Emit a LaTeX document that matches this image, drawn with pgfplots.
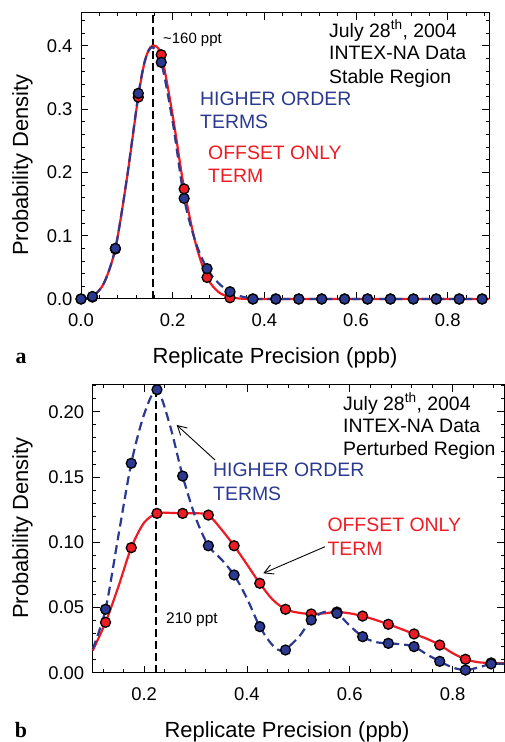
\documentclass[border=0pt]{standalone}
\usepackage{pgfplots}
\pgfplotsset{compat=1.18}
\usepackage{fontspec}
\setmainfont{Liberation Sans}
\newfontfamily\serifb{Liberation Serif}
\usetikzlibrary{arrows.meta}
\definecolor{myblue}{RGB}{43,57,144}
\definecolor{myred}{RGB}{237,28,36}
\pgfplotsset{
  myaxis/.style={
    scale only axis, anchor=south west, clip=false,
    tick align=inside,
    major tick length=7bp, minor tick length=3.5bp,
    every tick/.style={black, line width=0.8bp},
    every minor tick/.style={black, line width=0.7bp},
    axis line style={line width=1bp},
    tick label style={font=\fontsize{18.5}{20}\selectfont},
    xticklabel style={yshift=-11bp},
    yticklabel style={xshift=-5bp},
    /pgf/number format/assume math mode=true,
    /pgf/number format/fixed, /pgf/number format/fixed zerofill,
  },
  redline/.style={myred, line width=2.2bp, smooth, no markers},
  blueline/.style={myblue, line width=2.2bp, smooth, no markers, dash pattern=on 9bp off 5bp},
  redmk/.style={only marks, mark=*, mark size=5bp, mark options={fill=myred, draw=black, line width=1.3bp}},
  bluemk/.style={only marks, mark=*, mark size=5bp, mark options={fill=myblue, draw=black, line width=1.3bp}},
}
\begin{document}
\begin{tikzpicture}
\useasboundingbox (0bp,0bp) rectangle (505bp,742bp);
% ---------------- panel a ----------------
\begin{axis}[myaxis, at={(81bp,443bp)}, width=408bp, height=286bp,
  xmin=0, xmax=0.89, ymin=0, ymax=0.452,
  xtick={0,0.2,0.4,0.6,0.8}, minor xtick={0.04,0.08,0.12,0.16,0.24,0.28,0.32,0.36,0.44,0.48,0.52,0.56,0.64,0.68,0.72,0.76,0.84,0.88},
  ytick={0,0.1,0.2,0.3,0.4}, minor ytick={0.02,0.04,0.06,0.08,0.12,0.14,0.16,0.18,0.22,0.24,0.26,0.28,0.32,0.34,0.36,0.38,0.42,0.44},
  xticklabel style={/pgf/number format/precision=1},
  yticklabel style={/pgf/number format/precision=1},
]
\addplot[black, line width=2bp, dash pattern=on 8bp off 4bp] coordinates {(0.157,0) (0.157,0.452)};
\addplot[redline] coordinates {
(0,0) (0.025,0.004) (0.05,0.025) (0.075,0.08) (0.1,0.19) (0.125,0.32) (0.14,0.378) (0.155,0.400)
(0.175,0.386) (0.2,0.29) (0.225,0.174) (0.25,0.088) (0.275,0.034) (0.3,0.011) (0.325,0.003)
(0.35,0.0005) (0.375,0) (0.5,0) (0.7,0) (0.89,0)};
\addplot[blueline] coordinates {
(0,0) (0.025,0.004) (0.05,0.025) (0.075,0.08) (0.1,0.19) (0.125,0.322) (0.14,0.378) (0.155,0.398)
(0.175,0.374) (0.2,0.28) (0.225,0.159) (0.25,0.09) (0.275,0.048) (0.3,0.025) (0.325,0.0115)
(0.35,0.004) (0.375,0.001) (0.4,0) (0.6,0) (0.89,0)};
\addplot[redmk] coordinates {
(0,0) (0.025,0.003) (0.075,0.079) (0.125,0.319) (0.175,0.386) (0.225,0.174) (0.275,0.034) (0.325,0.002)
(0.375,0) (0.425,0) (0.475,0) (0.525,0) (0.575,0) (0.625,0) (0.675,0) (0.725,0) (0.775,0) (0.825,0) (0.875,0)};
\addplot[bluemk] coordinates {
(0,0) (0.025,0.004) (0.075,0.080) (0.125,0.325) (0.175,0.374) (0.225,0.159) (0.275,0.048) (0.325,0.0115)
(0.375,0) (0.425,0) (0.475,0) (0.525,0) (0.575,0) (0.625,0) (0.675,0) (0.725,0) (0.775,0) (0.825,0) (0.875,0)};
\end{axis}
% ---------------- panel b ----------------
\begin{axis}[myaxis, at={(92.7bp,69.3bp)}, width=411.3bp, height=287.7bp,
  xmin=0.1, xmax=0.9, ymin=0, ymax=0.2205,
  xtick={0.2,0.4,0.6,0.8}, minor xtick={0.12,0.16,0.24,0.28,0.32,0.36,0.44,0.48,0.52,0.56,0.64,0.68,0.72,0.76,0.84,0.88},
  ytick={0,0.05,0.1,0.15,0.2}, minor ytick={0.01,0.02,0.03,0.04,0.06,0.07,0.08,0.09,0.11,0.12,0.13,0.14,0.16,0.17,0.18,0.19,0.21,0.22},
  xticklabel style={/pgf/number format/precision=1},
  yticklabel style={/pgf/number format/precision=2},
]
\addplot[black, line width=2bp, dash pattern=on 8bp off 4bp] coordinates {(0.2225,0) (0.2225,0.216)};
\addplot[redline] coordinates {
(0.1,0.017) (0.125,0.0386) (0.15,0.066) (0.175,0.0958) (0.2,0.115) (0.225,0.1221) (0.25,0.1225)
(0.275,0.1221) (0.3,0.1222) (0.325,0.1208) (0.35,0.110) (0.375,0.0973) (0.4,0.083) (0.425,0.0685)
(0.45,0.056) (0.475,0.0486) (0.5,0.046) (0.525,0.045) (0.55,0.0455) (0.575,0.0465) (0.6,0.0455)
(0.625,0.0434) (0.65,0.0405) (0.675,0.0371) (0.7,0.0335) (0.725,0.0297) (0.75,0.026) (0.775,0.0212)
(0.8,0.015) (0.825,0.0103) (0.85,0.008) (0.875,0.0075) (0.9,0.0072)};
\addplot[blueline] coordinates {
(0.1,0.018) (0.125,0.0486) (0.15,0.105) (0.175,0.1605) (0.2,0.198) (0.225,0.2169) (0.25,0.190)
(0.275,0.1507) (0.3,0.119) (0.325,0.0973) (0.35,0.087) (0.375,0.0749) (0.4,0.057) (0.425,0.0353)
(0.45,0.021) (0.47,0.017) (0.5,0.027) (0.525,0.0404) (0.55,0.0465) (0.575,0.0455) (0.6,0.036)
(0.625,0.0276) (0.65,0.0235) (0.675,0.0225) (0.7,0.0218) (0.725,0.020) (0.75,0.014) (0.775,0.0087)
(0.8,0.004) (0.825,0.002) (0.85,0.004) (0.875,0.0067) (0.9,0.0068)};
\addplot[redmk] coordinates {
(0.125,0.0386) (0.175,0.0958) (0.225,0.1221) (0.275,0.1221) (0.325,0.1208) (0.375,0.0973) (0.425,0.0685)
(0.475,0.0486) (0.525,0.045) (0.575,0.0465) (0.625,0.0434) (0.675,0.0371) (0.725,0.0297) (0.775,0.0212)
(0.825,0.0103) (0.875,0.0075)};
\addplot[bluemk] coordinates {
(0.125,0.0486) (0.175,0.1605) (0.225,0.2169) (0.275,0.1507) (0.325,0.0973) (0.375,0.0749) (0.425,0.0353)
(0.475,0.0174) (0.525,0.0404) (0.575,0.0455) (0.625,0.0276) (0.675,0.0225) (0.725,0.020) (0.775,0.0087)
(0.825,0.002) (0.875,0.0067)};
\end{axis}
% ---------------- labels ----------------
\begin{scope}[x=1bp, y=1bp]
\def\lab{\fontsize{22}{26}\selectfont}
\def\ann{\fontsize{19.5}{23}\selectfont}
\node[anchor=base, font=\lab] at (275,379) {Replicate Precision (ppb)};
\node[anchor=base, font=\lab] at (287,5) {Replicate Precision (ppb)};
\node[anchor=base, rotate=90, font=\lab] at (28,577) {Probability Density};
\node[anchor=base, rotate=90, font=\lab] at (28,214) {Probability Density};
\node[anchor=base, font=\serifb\bfseries\fontsize{22}{26}\selectfont] at (21,379) {a};
\node[anchor=base, font=\serifb\bfseries\fontsize{22}{26}\selectfont] at (21,5) {b};
% panel a annotations
\node[anchor=base west, inner sep=0, font=\ann] at (329,704.7) {July 28\textsuperscript{th}, 2004};
\node[anchor=base west, inner sep=0, font=\ann] at (329,682) {INTEX-NA Data};
\node[anchor=base west, inner sep=0, font=\ann] at (329,658.7) {Stable Region};
\node[anchor=base west, inner sep=0, font=\ann, text=myblue] at (200,636) {HIGHER ORDER};
\node[anchor=base west, inner sep=0, font=\ann, text=myblue] at (200,613.7) {TERMS};
\node[anchor=base west, inner sep=0, font=\ann, text=myred] at (208,582.7) {OFFSET ONLY};
\node[anchor=base west, inner sep=0, font=\ann, text=myred] at (208,559.3) {TERM};
\node[anchor=base west, inner sep=0, font=\fontsize{15}{18}\selectfont] at (163,698) {\textasciitilde160 ppt};
% panel b annotations
\node[anchor=base west, inner sep=0, font=\ann] at (343,332) {July 28\textsuperscript{th}, 2004};
\node[anchor=base west, inner sep=0, font=\ann] at (343,309.3) {INTEX-NA Data};
\node[anchor=base west, inner sep=0, font=\ann] at (343,287) {Perturbed Region};
\node[anchor=base west, inner sep=0, font=\ann, text=myblue] at (213,265.3) {HIGHER ORDER};
\node[anchor=base west, inner sep=0, font=\ann, text=myblue] at (213,242) {TERMS};
\node[anchor=base west, inner sep=0, font=\ann, text=myred] at (327.3,210.3) {OFFSET ONLY};
\node[anchor=base west, inner sep=0, font=\ann, text=myred] at (327.3,187) {TERM};
\node[anchor=base west, inner sep=0, font=\fontsize{15.5}{18}\selectfont] at (166,118.7) {210 ppt};
\draw[-{Straight Barb[length=9bp,width=10bp]}, line width=0.9bp] (215,282) -- (176.7,317);
\draw[-{Straight Barb[length=9bp,width=10bp]}, line width=0.9bp] (325,195.3) -- (263.3,168.7);
\end{scope}
\end{tikzpicture}
\end{document}
